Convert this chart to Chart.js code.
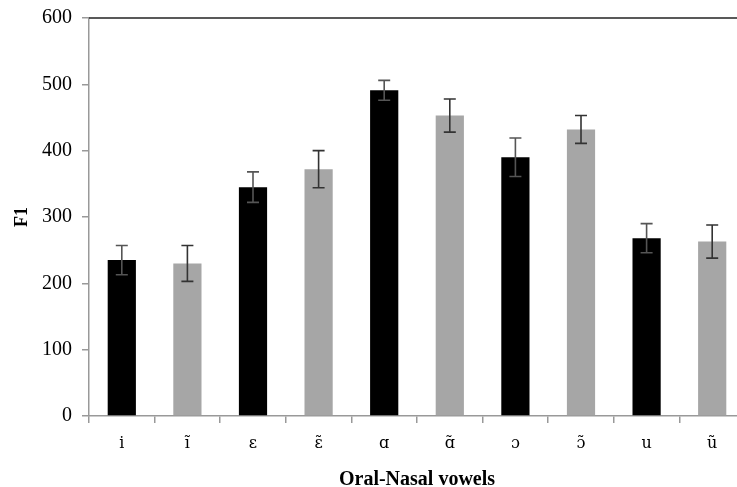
<!DOCTYPE html>
<html>
<head>
<meta charset="utf-8">
<script src="https://cdn.jsdelivr.net/npm/chart.js@4"></script>
<style>
  html, body { margin: 0; padding: 0; background: #fff; overflow: hidden; }
  #wrap { width: 760px; height: 487px; }
</style>
</head>
<body>
<div id="wrap"><canvas id="grafico"></canvas></div>
<script>
const vocales = ["i", "ĩ", "ɛ", "ɛ̃", "ɑ", "ɑ̃", "ɔ", "ɔ̃", "u", "ũ"];
const valoresF1 = [235, 230, 345, 372, 491, 453, 390, 432, 268, 263];
const erroresF1 = [22, 27, 23, 28, 15, 25, 29, 21, 22, 25];
const ticksY = [0, 100, 200, 300, 400, 500, 600];

const fuente = "'Liberation Serif', 'DejaVu Serif', serif";
const fuenteIPA = "'DejaVu Serif', serif";

// barras orales negras, nasales grises
const colores = vocales.map((v, i) => (i % 2 === 0 ? "#000000" : "#a6a6a6"));

const barrasError = {
  id: "barrasError",
  afterDatasetsDraw(chart) {
    const ctx = chart.ctx;
    const meta = chart.getDatasetMeta(0);
    const y = chart.scales.y;
    ctx.save();
    meta.data.forEach((bar, i) => {
      const x = bar.x;
      const arriba = y.getPixelForValue(valoresF1[i] + erroresF1[i]);
      const abajo = y.getPixelForValue(valoresF1[i] - erroresF1[i]);
      ctx.strokeStyle = i % 2 === 0 ? "#555" : "#333";
      ctx.lineWidth = 1.6;
      ctx.beginPath();
      ctx.moveTo(x, arriba);
      ctx.lineTo(x, abajo);
      ctx.moveTo(x - 6, arriba);
      ctx.lineTo(x + 6, arriba);
      ctx.moveTo(x - 6, abajo);
      ctx.lineTo(x + 6, abajo);
      ctx.stroke();
    });
    // línea superior del marco
    const area = chart.chartArea;
    ctx.strokeStyle = "#222";
    ctx.lineWidth = 1.5;
    ctx.beginPath();
    ctx.moveTo(area.left, area.top);
    ctx.lineTo(area.right, area.top);
    ctx.stroke();
    ctx.restore();
  },
};

new Chart(document.getElementById("grafico"), {
  type: "bar",
  data: {
    labels: vocales,
    datasets: [
      {
        data: valoresF1,
        backgroundColor: colores,
        borderWidth: 0,
        categoryPercentage: 1,
        barPercentage: 0.43,
      },
    ],
  },
  options: {
    responsive: true,
    maintainAspectRatio: false,
    animation: false,
    layout: {
      padding: { top: 18, right: 15, bottom: 0, left: 0 },
    },
    plugins: {
      legend: { display: false },
      tooltip: { enabled: false },
    },
    scales: {
      x: {
        afterFit(scale) {
          scale.height = 71;
          scale.paddingLeft = 0;
          scale.paddingRight = 0;
        },
        grid: {
          drawOnChartArea: false,
          drawTicks: true,
          tickLength: 7,
          color: "#999",
          lineWidth: 1.5,
        },
        border: { color: "#999", width: 1.5 },
        ticks: {
          color: "#000",
          padding: 11,
          font: { family: fuenteIPA, size: 16 },
        },
        title: {
          display: true,
          text: "Oral-Nasal vowels",
          color: "#000",
          font: { family: fuente, size: 20, weight: "bold", lineHeight: 1 },
          padding: { top: 10, bottom: -3 },
        },
      },
      y: {
        min: 0,
        max: 600,
        afterFit(scale) {
          scale.width = 89;
          scale.paddingTop = 0;
          scale.paddingBottom = 0;
        },
        afterBuildTicks(scale) {
          scale.ticks = ticksY.map((v) => ({ value: v }));
        },
        grid: {
          drawOnChartArea: false,
          drawTicks: true,
          tickLength: 7,
          color: "#999",
          lineWidth: 1.5,
        },
        border: { color: "#999", width: 1.5 },
        ticks: {
          color: "#000",
          padding: 10,
          font: { family: fuente, size: 20 },
        },
        title: {
          display: true,
          text: "F1",
          color: "#000",
          font: { family: fuente, size: 18, weight: "bold" },
          padding: { top: 12, bottom: 4 },
        },
      },
    },
  },
  plugins: [barrasError],
});
</script>
</body>
</html>
